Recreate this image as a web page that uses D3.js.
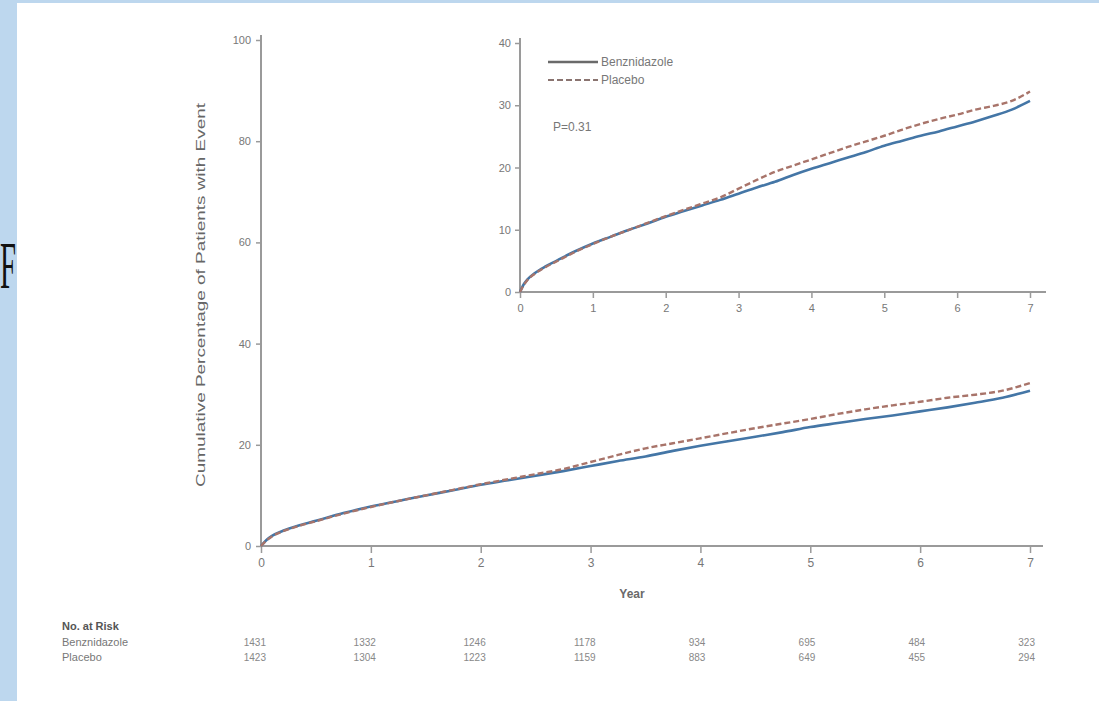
<!DOCTYPE html>
<html><head><meta charset="utf-8">
<script src="https://cdn.jsdelivr.net/npm/d3@7"></script>
<style>
html,body{margin:0;padding:0;background:#bdd7ee;}
svg{display:block;}
</style></head><body>
<svg id="chart" width="1099" height="701"></svg>
<script>
// ---- data ----
const years = [0,0.05,0.1,0.2,0.35,0.5,0.75,1,1.25,1.5,1.75,2,2.25,2.5,2.75,3,3.25,3.5,3.75,4,4.25,4.5,4.75,5,5.25,5.5,5.75,6,6.25,6.5,6.75,7];
const benznidazole = [0,1.2,2.0,3.0,4.1,5.0,6.5,7.8,8.9,10.0,11.0,12.1,13.0,13.9,14.8,15.8,16.8,17.7,18.8,19.8,20.7,21.6,22.5,23.5,24.3,25.1,25.8,26.6,27.4,28.3,29.3,30.7];
const placebo      = [0,1.1,1.9,2.9,4.0,4.9,6.4,7.7,8.9,10.0,11.1,12.2,13.2,14.2,15.2,16.6,18.0,19.3,20.3,21.3,22.3,23.3,24.2,25.1,26.1,27.0,27.8,28.5,29.3,29.9,30.7,32.2];
const mainYTicks = [0,20,40,60,80,100];
const insetYTicks = [0,10,20,30,40];
const xTicks = [0,1,2,3,4,5,6,7];
const atRiskBenz = ["1431","1332","1246","1178","934","695","484","323"];
const atRiskPlacebo = ["1423","1304","1223","1159","883","649","455","294"];
const seriesNames = ["Benznidazole","Placebo"];
const pValueText = "P=0.31";

const FONT = "Liberation Sans, Arial, sans-serif";
const svg = d3.select("#chart");
// panel letter F on the blue strip
svg.append("text").attr("x",0).attr("y",288)
  .style("font-family","Liberation Serif, Times New Roman, serif").style("font-size","68px")
  .attr("textLength",16).attr("lengthAdjust","spacingAndGlyphs")
  .attr("fill","#111").text("F");
svg.append("rect").attr("x",17).attr("y",3).attr("width",1099-17).attr("height",701-3).attr("fill","#ffffff");

const axisColor = "#9a9a9a", textColor = "#777777";
const benzColor = "#4476a6", placColor = "#a8746a";

function styleAxis(g, fs){
  g.selectAll(".domain").attr("stroke",axisColor).attr("stroke-width",2);
  g.selectAll(".tick line").attr("stroke",axisColor).attr("stroke-width",1.5);
  g.selectAll(".tick text").attr("fill",textColor).style("font-family",FONT).style("font-size",fs+"px");
}

// ---- main chart ----
const x = d3.scaleLinear().domain([0,7]).range([261,1030]);
const y = d3.scaleLinear().domain([0,100]).range([546,40]);

const gx = svg.append("g").attr("transform","translate(0,546)")
  .call(d3.axisBottom(x).tickValues(xTicks).tickSize(7).tickPadding(5).tickFormat(d3.format("d")));
gx.select(".domain").attr("d","M261,0H1043");
styleAxis(gx, 12);

const gy = svg.append("g").attr("transform","translate(261,0)")
  .call(d3.axisLeft(y).tickValues(mainYTicks).tickSize(5).tickPadding(5));
gy.select(".domain").attr("d","M0,35V546");
styleAxis(gy, 11);

svg.append("text").attr("x",632).attr("y",598).attr("text-anchor","middle")
  .style("font-family",FONT).style("font-size","12px").attr("font-weight","bold").attr("fill","#6a6a6a").text("Year");
svg.append("text").attr("transform","translate(205,295) rotate(-90)").attr("text-anchor","middle")
  .style("font-family",FONT).style("font-size","13px").attr("fill","#666").attr("textLength",384).attr("lengthAdjust","spacingAndGlyphs")
  .text("Cumulative Percentage of Patients with Event");

function drawLines(g, xs, ys){
  const line = d3.line().x((d,i)=>xs(years[i])).y(d=>ys(d)).curve(d3.curveMonotoneX);
  g.append("path").datum(benznidazole).attr("d",line).attr("fill","none")
    .attr("stroke",benzColor).attr("stroke-width",2.6);
  g.append("path").datum(placebo).attr("d",line).attr("fill","none")
    .attr("stroke",placColor).attr("stroke-width",2.4).attr("stroke-dasharray","6,3");
}
drawLines(svg.append("g"), x, y);

// ---- inset ----
const xi = d3.scaleLinear().domain([0,7]).range([520,1030]);
const yi = d3.scaleLinear().domain([0,40]).range([292,43]);
const gxi = svg.append("g").attr("transform","translate(0,292)")
  .call(d3.axisBottom(xi).tickValues(xTicks).tickSize(6).tickPadding(6).tickFormat(d3.format("d")));
gxi.select(".domain").attr("d","M520,0H1046");
styleAxis(gxi, 11);
const gyi = svg.append("g").attr("transform","translate(520,0)")
  .call(d3.axisLeft(yi).tickValues(insetYTicks).tickSize(5).tickPadding(4));
gyi.select(".domain").attr("d","M0,38V292");
styleAxis(gyi, 11);
drawLines(svg.append("g"), xi, yi);

// legend
const leg = svg.append("g");
leg.append("line").attr("x1",548).attr("x2",598).attr("y1",62).attr("y2",62)
  .attr("stroke","#6a6a6a").attr("stroke-width",2.6);
leg.append("line").attr("x1",548).attr("x2",598).attr("y1",80).attr("y2",80)
  .attr("stroke","#8a7470").attr("stroke-width",2.2).attr("stroke-dasharray","6,3");
seriesNames.forEach((n,i)=>{
  leg.append("text").attr("x",601).attr("y",66+18*i).style("font-family",FONT).style("font-size","12px").attr("fill",textColor).text(n);
});
svg.append("text").attr("x",553).attr("y",131).style("font-family",FONT).style("font-size","12px").attr("fill",textColor).text(pValueText);

// ---- at risk table ----
const tbl = svg.append("g");
tbl.append("text").attr("x",62).attr("y",630).style("font-family",FONT).style("font-size","11px").attr("font-weight","bold").attr("fill","#555").text("No. at Risk");
tbl.append("text").attr("x",62).attr("y",646).style("font-family",FONT).style("font-size","11px").attr("fill","#777").text(seriesNames[0]);
tbl.append("text").attr("x",62).attr("y",661).style("font-family",FONT).style("font-size","11px").attr("fill","#777").text(seriesNames[1]);
xTicks.forEach((t,i)=>{
  tbl.append("text").attr("x",x(t)+5).attr("y",646).attr("text-anchor","end").style("font-family",FONT).style("font-size","10px").attr("fill","#888").text(atRiskBenz[i]);
  tbl.append("text").attr("x",x(t)+5).attr("y",661).attr("text-anchor","end").style("font-family",FONT).style("font-size","10px").attr("fill","#888").text(atRiskPlacebo[i]);
});
</script>
</body></html>
